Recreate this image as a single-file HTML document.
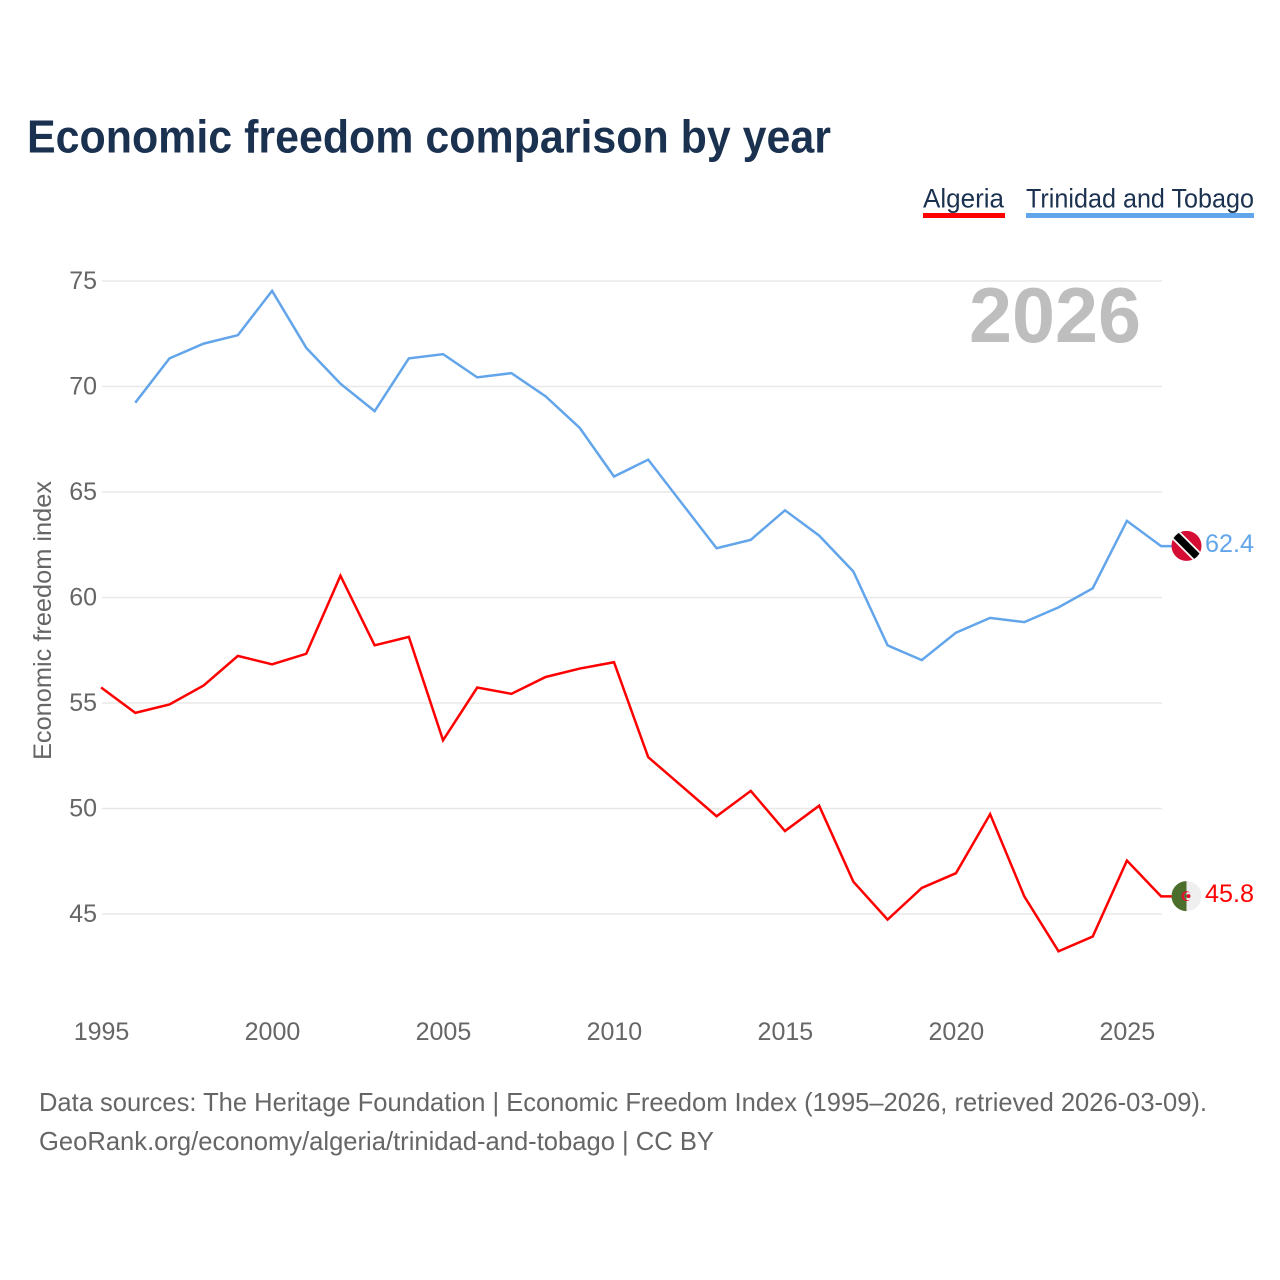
<!DOCTYPE html>
<html lang="en">
<head>
<meta charset="utf-8">
<title>Economic freedom comparison by year</title>
<style>
html,body{margin:0;padding:0;background:#fff;width:1280px;height:1280px;overflow:hidden}
svg{display:block;font-family:"Liberation Sans",sans-serif}
</style>
</head>
<body>
<svg id="chart" xmlns="http://www.w3.org/2000/svg" width="1280" height="1280" viewBox="0 0 1280 1280">
  <text x="27" y="152.5" font-size="46" font-weight="700" fill="#1a3150" textLength="804" lengthAdjust="spacingAndGlyphs">Economic freedom comparison by year</text>

  <g>
    <g>
      <text x="923" y="207.5" font-size="27" fill="#1a3150" textLength="81" lengthAdjust="spacingAndGlyphs">Algeria</text>
      <rect x="923" y="213" width="82" height="5" fill="#ff0000"/>
    </g>
    <g>
      <text x="1026" y="207.5" font-size="27" fill="#1a3150" textLength="228" lengthAdjust="spacingAndGlyphs">Trinidad and Tobago</text>
      <rect x="1026" y="213" width="228" height="5" fill="#62a5ea"/>
    </g>
  </g>

  <g id="grid"></g>
  <g id="yticks"></g>
  <g id="xticks"></g>

  <text x="1141" y="342" text-anchor="end" font-size="78" font-weight="700" fill="#bebebe" textLength="172" lengthAdjust="spacingAndGlyphs">2026</text>

  <text transform="translate(51,760) rotate(-90)" font-size="25" fill="#666666" textLength="279" lengthAdjust="spacingAndGlyphs">Economic freedom index</text>

  <g transform="translate(-0.4,-0.7)">
    <path id="line-algeria" fill="none" stroke="#ff0000" stroke-width="2.5" stroke-linejoin="miter"/>
    <path id="line-tt" fill="none" stroke="#62a5ea" stroke-width="2.5" stroke-linejoin="miter"/>
  </g>

  <defs>
    <clipPath id="flag-clip-tt"><circle cx="0" cy="0" r="15"/></clipPath>
    <clipPath id="flag-clip-dz"><circle cx="0" cy="0" r="15"/></clipPath>
  </defs>

  <g id="flag-tt" clip-path="url(#flag-clip-tt)">
    <rect x="-16" y="-16" width="32" height="32" fill="#d50c33"/>
    <line x1="-16" y1="-16" x2="16" y2="16" stroke="#ffffff" stroke-width="11"/>
    <line x1="-16" y1="-16" x2="16" y2="16" stroke="#000000" stroke-width="7.5"/>
  </g>
  <g id="flag-dz" clip-path="url(#flag-clip-dz)">
    <rect x="-16" y="-16" width="16" height="32" fill="#4b6e2c"/>
    <rect x="0" y="-16" width="16" height="32" fill="#efefef"/>
    <circle cx="0" cy="0" r="5" fill="#e0102f"/>
    <circle cx="1.5" cy="0" r="4" fill="#efefef"/>
    <clipPath id="crescent-left"><rect x="-16" y="-16" width="16" height="32"/></clipPath>
    <circle cx="1.5" cy="0" r="4" fill="#4b6e2c" clip-path="url(#crescent-left)"/>
    <circle cx="2" cy="0" r="2" fill="#e0102f"/>
  </g>

  <text id="value-tt" x="1205" font-size="25" fill="#62a5ea" textLength="49" lengthAdjust="spacingAndGlyphs"></text>
  <text id="value-dz" x="1205" font-size="25" fill="#ff0000" textLength="49" lengthAdjust="spacingAndGlyphs"></text>

  <text x="39" y="1111" font-size="26" fill="#666666" textLength="1168" lengthAdjust="spacingAndGlyphs">Data sources: The Heritage Foundation | Economic Freedom Index (1995–2026, retrieved 2026-03-09).</text>
  <text x="39" y="1150" font-size="26" fill="#666666" textLength="675" lengthAdjust="spacingAndGlyphs">GeoRank.org/economy/algeria/trinidad-and-tobago | CC BY</text>
</svg>

<script>
const years = [1995,1996,1997,1998,1999,2000,2001,2002,2003,2004,2005,2006,2007,2008,2009,2010,2011,2012,2013,2014,2015,2016,2017,2018,2019,2020,2021,2022,2023,2024,2025,2026];
const algeria = [55.7,54.5,54.9,55.8,57.2,56.8,57.3,61.0,57.7,58.1,53.2,55.7,55.4,56.2,56.6,56.9,52.4,51.0,49.6,50.8,48.9,50.1,46.5,44.7,46.2,46.9,49.7,45.8,43.2,43.9,47.5,45.8];
const trinidadTobago = [null,69.2,71.3,72.0,72.4,74.5,71.8,70.1,68.8,71.3,71.5,70.4,70.6,69.5,68.0,65.7,66.5,64.4,62.3,62.7,64.1,62.9,61.2,57.7,57.0,58.3,59.0,58.8,59.5,60.4,63.6,62.4];
const yTickValues = [45,50,55,60,65,70,75];
const xTickValues = [1995,2000,2005,2010,2015,2020,2025];

const NS = 'http://www.w3.org/2000/svg';
const flagX = 1186.5;
function xScale(year){ return 101.5 + (year - 1995) * (1161.5 - 101.5) / (2026 - 1995); }
function yScale(v){ return 914 + (v - 45) * (281 - 914) / (75 - 45); }

function linePath(values){
  let d = '';
  let started = false;
  let lastValue = null;
  values.forEach(function(v, i){
    if (v === null) { return; }
    d += (started ? 'L' : 'M') + xScale(years[i]).toFixed(2) + ' ' + yScale(v).toFixed(2);
    started = true;
    lastValue = v;
  });
  d += 'L' + (flagX - 12) + ' ' + yScale(lastValue).toFixed(2);
  return d;
}

const grid = document.getElementById('grid');
const yticks = document.getElementById('yticks');
const xticks = document.getElementById('xticks');

yTickValues.forEach(function(v){
  const ln = document.createElementNS(NS, 'line');
  
  
  ln.setAttribute('x1', 102);
  ln.setAttribute('x2', 1162);
  ln.setAttribute('y1', yScale(v));
  ln.setAttribute('y2', yScale(v));
  ln.setAttribute('stroke', '#e8e8e8');
  ln.setAttribute('stroke-width', '1.4');
  grid.appendChild(ln);

  const t = document.createElementNS(NS, 'text');
  
  
  t.setAttribute('x', 97);
  t.setAttribute('y', yScale(v) + 8);
  t.setAttribute('text-anchor', 'end');
  t.setAttribute('font-size', '25');
  t.setAttribute('fill', '#666666');
  t.textContent = v;
  yticks.appendChild(t);
});

xTickValues.forEach(function(y){
  const t = document.createElementNS(NS, 'text');
  
  
  t.setAttribute('x', xScale(y));
  t.setAttribute('y', 1040);
  t.setAttribute('text-anchor', 'middle');
  t.setAttribute('font-size', '25');
  t.setAttribute('fill', '#666666');
  t.textContent = y;
  xticks.appendChild(t);
});

document.getElementById('line-algeria').setAttribute('d', linePath(algeria));
document.getElementById('line-tt').setAttribute('d', linePath(trinidadTobago));

const lastDz = algeria[algeria.length - 1];
const lastTt = trinidadTobago[trinidadTobago.length - 1];
document.getElementById('flag-tt').setAttribute('transform', 'translate(' + flagX + ',' + (yScale(lastTt) - 1) + ')');
document.getElementById('flag-dz').setAttribute('transform', 'translate(' + flagX + ',' + (yScale(lastDz) - 1) + ')');
const valueTt = document.getElementById('value-tt');
valueTt.setAttribute('y', yScale(lastTt) + 5);
valueTt.textContent = lastTt.toFixed(1);
const valueDz = document.getElementById('value-dz');
valueDz.setAttribute('y', yScale(lastDz) + 5);
valueDz.textContent = lastDz.toFixed(1);
</script>
</body>
</html>
